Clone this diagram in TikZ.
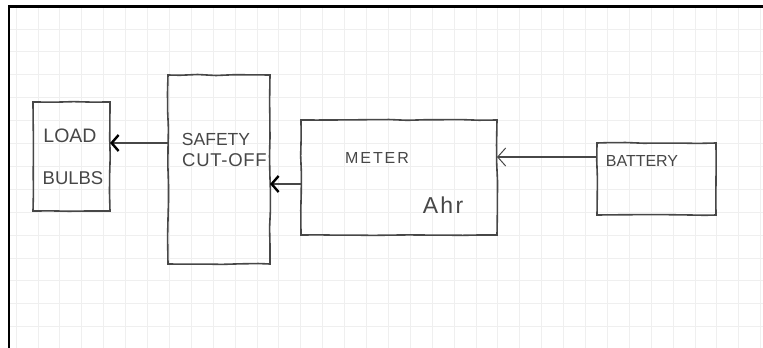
\documentclass[tikz,border=0pt]{standalone}
\usepackage{fontspec}
\setmainfont{Liberation Sans}
\usetikzlibrary{arrows.meta,decorations.pathmorphing}
\definecolor{ink}{HTML}{474747}
\definecolor{gridc}{HTML}{EFEFEF}
\begin{document}
\begin{tikzpicture}[x=1pt,y=-1pt,
  blockbox/.style={draw=ink, line width=1.6pt, inner sep=0pt, outer sep=0pt,
    decorate, decoration={random steps, segment length=18pt, amplitude=0.5pt}},
  handtext/.style={text=ink, inner sep=0pt, font=\fontsize{17}{18}\selectfont},
  boldarrow/.style={draw=ink, line width=1.5pt,
    -{Straight Barb[length=7pt,width=16pt,line width=2.4pt,color=black]}},
  thinarrow/.style={draw=ink, line width=1.3pt,
    -{Straight Barb[length=8pt,width=18pt,line width=1pt]}}]
\pgfmathsetseed{7}
\useasboundingbox (0,0) rectangle (763,348);
\fill[white] (0,0) rectangle (763,348);
% grid paper
\foreach \k in {0,...,34} {
  \draw[gridc, line width=0.9pt] ({16.1+21.9*\k},8) -- ({16.1+21.9*\k},348);
}
\foreach \k in {0,...,14} {
  \draw[gridc, line width=0.9pt] (9,{29+22.9*\k}) -- (763,{29+22.9*\k});
}
% frame
\draw[black, line width=2.6pt] (9,348) -- (9,6.5) -- (763,6.5);
% boxes
\node[blockbox, minimum width=77pt, minimum height=109pt] (load) at (71.5,156.5) {};
\node[blockbox, minimum width=102pt, minimum height=189pt] (safety) at (219,169.5) {};
\node[blockbox, minimum width=196pt, minimum height=115pt] (meter) at (399,177.5) {};
\node[blockbox, minimum width=119pt, minimum height=72pt] (battery) at (656.5,179) {};
% labels
\node[handtext, font=\fontsize{19.5}{20}\selectfont] (tload) at (70,136) {LOAD};
\node[handtext, font=\fontsize{18.5}{20}\selectfont] (tbulbs) at (73,178) {BULBS};
\node[handtext, font=\fontsize{17.5}{20}\selectfont] (tsafety) at (216,139) {SAFETY};
\node[handtext, font=\fontsize{18.5}{20}\selectfont] (tcut) at (224.5,160) {\addfontfeatures{LetterSpace=4}CUT-OFF};
\node[handtext, font=\fontsize{16}{18}\selectfont] (tmeter) at (377,158) {\addfontfeatures{LetterSpace=12}METER};
\node[handtext, font=\fontsize{23}{24}\selectfont] (tahr) at (443,205) {\addfontfeatures{LetterSpace=10}Ahr};
\node[handtext, font=\fontsize{16}{18}\selectfont] (tbattery) at (642,161) {BATTERY};
% connectors
\draw[boldarrow] ([yshift=26.5pt]safety.west) -- ([yshift=13.5pt]load.east);
\draw[boldarrow] ([yshift=-6.5pt]meter.west) -- ([yshift=-14.5pt]safety.east);
\draw[thinarrow] ([yshift=22pt]battery.west) -- ([yshift=20.5pt]meter.east);
\end{tikzpicture}
\end{document}
